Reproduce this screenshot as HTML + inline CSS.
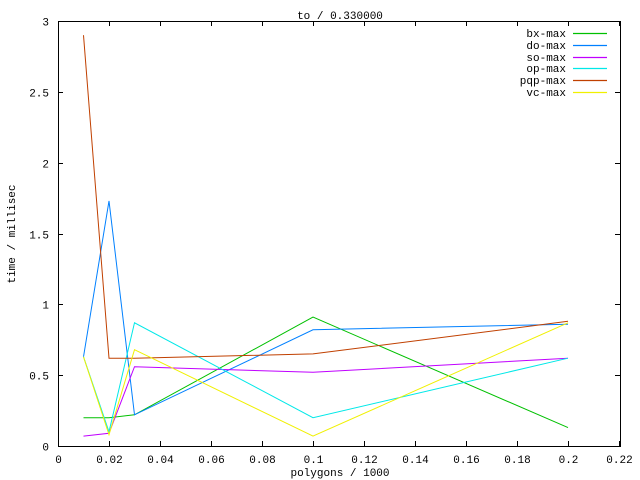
<!DOCTYPE html>
<html><head><meta charset="utf-8"><style>
html,body{margin:0;padding:0;background:#fff;width:640px;height:480px;overflow:hidden}
svg text{font-family:"Liberation Mono","DejaVu Sans Mono",monospace;font-size:11px;fill:#000}
</style></head><body>
<svg id="s" width="640" height="480" xmlns="http://www.w3.org/2000/svg"></svg>
<script>
var s=document.getElementById('s'),h='';
var L=58,R=619,T=21,B=446;
function X(v){return L+v/0.22*(R-L);}
function Y(v){return B-v/3*(B-T);}
h+='<rect x="'+L+'.5" y="'+T+'.5" width="'+(R-L+1)+'" height="'+(B-T)+'" fill="none" stroke="#000" stroke-width="1"/>';
for(var i=0;i<=11;i++){var v=i*0.02,x=Math.round(X(v))+0.5;
h+='<line x1="'+x+'" y1="'+B+'" x2="'+x+'" y2="'+(B-5)+'" stroke="#000"/>';
h+='<line x1="'+x+'" y1="'+T+'" x2="'+x+'" y2="'+(T+5)+'" stroke="#000"/>';
var lab=i==0?'0':(Math.round(v*100)/100).toString();
h+='<text x="'+x+'" y="'+(B+17)+'" text-anchor="middle">'+lab+'</text>';}
for(var j=0;j<=6;j++){var v=j*0.5,y=Math.round(Y(v))+0.5;
h+='<line x1="'+L+'" y1="'+y+'" x2="'+(L+5)+'" y2="'+y+'" stroke="#000"/>';
h+='<line x1="'+(R+1)+'" y1="'+y+'" x2="'+(R-4)+'" y2="'+y+'" stroke="#000"/>';
h+='<text x="'+(L-9)+'" y="'+(y+4)+'" text-anchor="end">'+v+'</text>';}
h+='<text x="340" y="19" text-anchor="middle">to / 0.330000</text>';
h+='<text x="340" y="476" text-anchor="middle">polygons / 1000</text>';
h+='<text transform="translate(15,234) rotate(-90)" text-anchor="middle">time / millisec</text>';
var xs=[0.01,0.02,0.03,0.1,0.2];
var S=[['bx-max','#00c000',[0.2,0.2,0.22,0.91,0.13]],
['do-max','#0080ff',[0.63,1.73,0.22,0.82,0.86]],
['so-max','#c000ff',[0.07,0.09,0.56,0.52,0.62]],
['op-max','#00e8e8',[0.63,0.1,0.87,0.2,0.62]],
['pqp-max','#c04000',[2.9,0.62,0.62,0.65,0.88]],
['vc-max','#f0f000',[0.63,0.08,0.68,0.07,0.87]]];
S.forEach(function(sr,k){var p=xs.map(function(x,i){return X(x).toFixed(1)+','+Y(sr[2][i]).toFixed(1)}).join(' ');
h+='<polyline points="'+p+'" fill="none" stroke="'+sr[1]+'" stroke-width="1"/>';
var ly=Math.round(33+k*11.8);
h+='<text x="566" y="'+(ly+4)+'" text-anchor="end">'+sr[0]+'</text>';
h+='<line x1="573" y1="'+(ly+0.5)+'" x2="607" y2="'+(ly+0.5)+'" stroke="'+sr[1]+'" stroke-width="1.2"/>';});
s.innerHTML=h;
</script>
</body></html>
